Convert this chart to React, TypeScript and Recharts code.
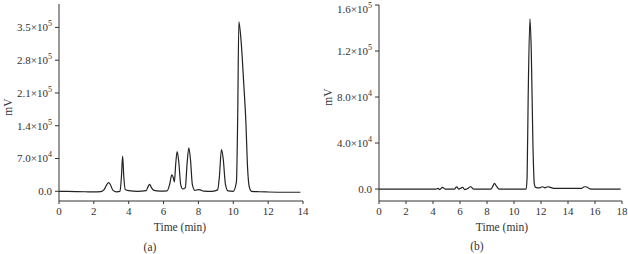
import { LineChart, Line, XAxis, YAxis } from "recharts";

// chromatogram (a)
const timeA = [
  0, 0.5, 1.0, 1.5, 2.0, 2.4, 2.6, 2.75, 2.85, 2.95, 3.1, 3.3, 3.5, 3.58, 3.65, 3.72, 3.8, 4.0, 4.5,
  5.0, 5.1, 5.2, 5.3, 5.45, 5.8, 6.2, 6.35, 6.47, 6.55, 6.62, 6.7, 6.78, 6.88, 6.98, 7.1, 7.25, 7.35,
  7.45, 7.55, 7.65, 7.8, 8.0, 8.1, 8.3, 8.8, 9.1, 9.2, 9.32, 9.42, 9.55, 9.7, 10.0, 10.18, 10.25,
  10.32, 10.45, 10.6, 10.72, 10.82, 10.92, 11.05, 11.5, 12.0, 13.0, 13.85,
];
const signalA = [
  0, -300, -600, -900, -1200, -800, 4000, 15000, 18500, 14000, 2000, -1000, 0, 30000, 75000, 30000,
  4000, 1500, 0, 1500, 9000, 15000, 8000, 2000, 500, 1000, 15000, 35000, 30000, 20000, 60000, 85000,
  60000, 15000, 5000, 8000, 60000, 93000, 65000, 15000, 2000, 3500, 3000, 500, 0, 3000, 30000,
  89000, 70000, 15000, 1000, 0, 20000, 150000, 362000, 320000, 230000, 150000, 50000, 9000, 0,
  -1000, -1500, -2000, -2000,
];

// chromatogram (b)
const timeB = [
  0, 4.2, 4.4, 4.5, 4.7, 4.9, 5.6, 5.75, 5.9, 6.2, 6.35, 6.5, 6.8, 7.0, 8.3, 8.45, 8.55, 8.7, 8.9,
  10.9, 10.97, 11.05, 11.18, 11.28, 11.4, 11.5, 11.6, 11.9, 12.1, 12.3, 12.5, 12.7, 13.0, 14.0, 15.0,
  15.2, 15.4, 15.6, 16.0, 17.9,
];
const signalB = [
  0, 0, 500, -500, 1500, 0, 0, 2000, 0, 1500, -500, 0, 2000, 0, 0, 3000, 5000, 2500, 0, 0, 10000,
  80000, 148000, 120000, 40000, 5000, 1500, 1000, 2000, 1000, 2000, 1500, 500, 500, 500, 2000, 1800,
  200, 0, 0,
];

const ticksXA = [0, 2, 4, 6, 8, 10, 12, 14];
const ticksYA = [0, 70000, 140000, 210000, 280000, 350000];
const ticksXB = [0, 2, 4, 6, 8, 10, 12, 14, 16, 18];
const ticksYB = [0, 40000, 80000, 120000, 160000];

const dataA = timeA.map((t, i) => ({ t, v: signalA[i] }));
const dataB = timeB.map((t, i) => ({ t, v: signalB[i] }));

const FONT = "'Liberation Serif', 'DejaVu Serif', serif";
const INK = "#333";

const SciTick = (props: any) => {
  const { x, y, payload } = props;
  const v = payload.value as number;
  if (v === 0) {
    return (
      <text x={x} y={y} dy="0.35em" textAnchor="end" fontFamily={FONT} fontSize={11} fill={INK}>
        0.0
      </text>
    );
  }
  const e = Math.floor(Math.log10(v));
  const m = (v / Math.pow(10, e)).toFixed(1);
  return (
    <text x={x} y={y} dy="0.35em" textAnchor="end" fontFamily={FONT} fontSize={11} fill={INK}>
      <tspan>{`${m}×10`}</tspan>
      <tspan dy={-5} fontSize={8}>
        {e}
      </tspan>
    </text>
  );
};

const label = (text: string, left: number, top: number, rotate = false) => (
  <div
    style={{
      position: "absolute",
      left,
      top,
      transform: `translate(-50%, -50%)${rotate ? " rotate(-90deg)" : ""}`,
      fontFamily: FONT,
      fontSize: 11.5,
      color: INK,
      whiteSpace: "nowrap",
      lineHeight: 1,
    }}
  >
    {text}
  </div>
);

const Panel = ({
  data,
  xMax,
  xTicks,
  yDomain,
  yTicks,
  width,
  top,
  right,
}: {
  data: { t: number; v: number }[];
  xMax: number;
  xTicks: number[];
  yDomain: [number, number];
  yTicks: number[];
  width: number;
  top: number;
  right: number;
}) => (
  <LineChart width={width} height={254} data={data} margin={{ top, right, bottom: 23, left: 0 }}>
    <XAxis
      type="number"
      dataKey="t"
      domain={[0, xMax]}
      ticks={xTicks}
      height={30}
      tickSize={3}
      tickMargin={3}
      stroke={INK}
      tick={{ fill: INK, fontFamily: FONT, fontSize: 11 }}
    />
    <YAxis
      type="number"
      domain={yDomain}
      ticks={yTicks}
      width={59}
      tickSize={4}
      tickMargin={3}
      stroke={INK}
      tick={<SciTick />}
      allowDataOverflow
    />
    <Line
      type="monotone"
      dataKey="v"
      stroke="#222"
      strokeWidth={1.2}
      dot={false}
      isAnimationActive={false}
    />
  </LineChart>
);

export default function App() {
  return (
    <div
      style={{
        position: "absolute",
        left: 0,
        top: 0,
        width: 628,
        height: 254,
        background: "#fff",
        overflow: "hidden",
      }}
    >
      <div style={{ position: "absolute", left: 0, top: 0 }}>
        <Panel
          data={dataA}
          xMax={14}
          xTicks={ticksXA}
          yDomain={[-20700, 400000]}
          yTicks={ticksYA}
          width={320}
          top={4}
          right={17}
        />
      </div>
      <div style={{ position: "absolute", left: 320, top: 0 }}>
        <Panel
          data={dataB}
          xMax={18}
          xTicks={ticksXB}
          yDomain={[-10400, 160000]}
          yTicks={ticksYB}
          width={308}
          top={5}
          right={6}
        />
      </div>
      {label("mV", 9, 107, true)}
      {label("Time (min)", 180, 228)}
      {label("(a)", 150, 248)}
      {label("mV", 329, 97, true)}
      {label("Time (min)", 502, 228)}
      {label("(b)", 477, 247)}
    </div>
  );
}
